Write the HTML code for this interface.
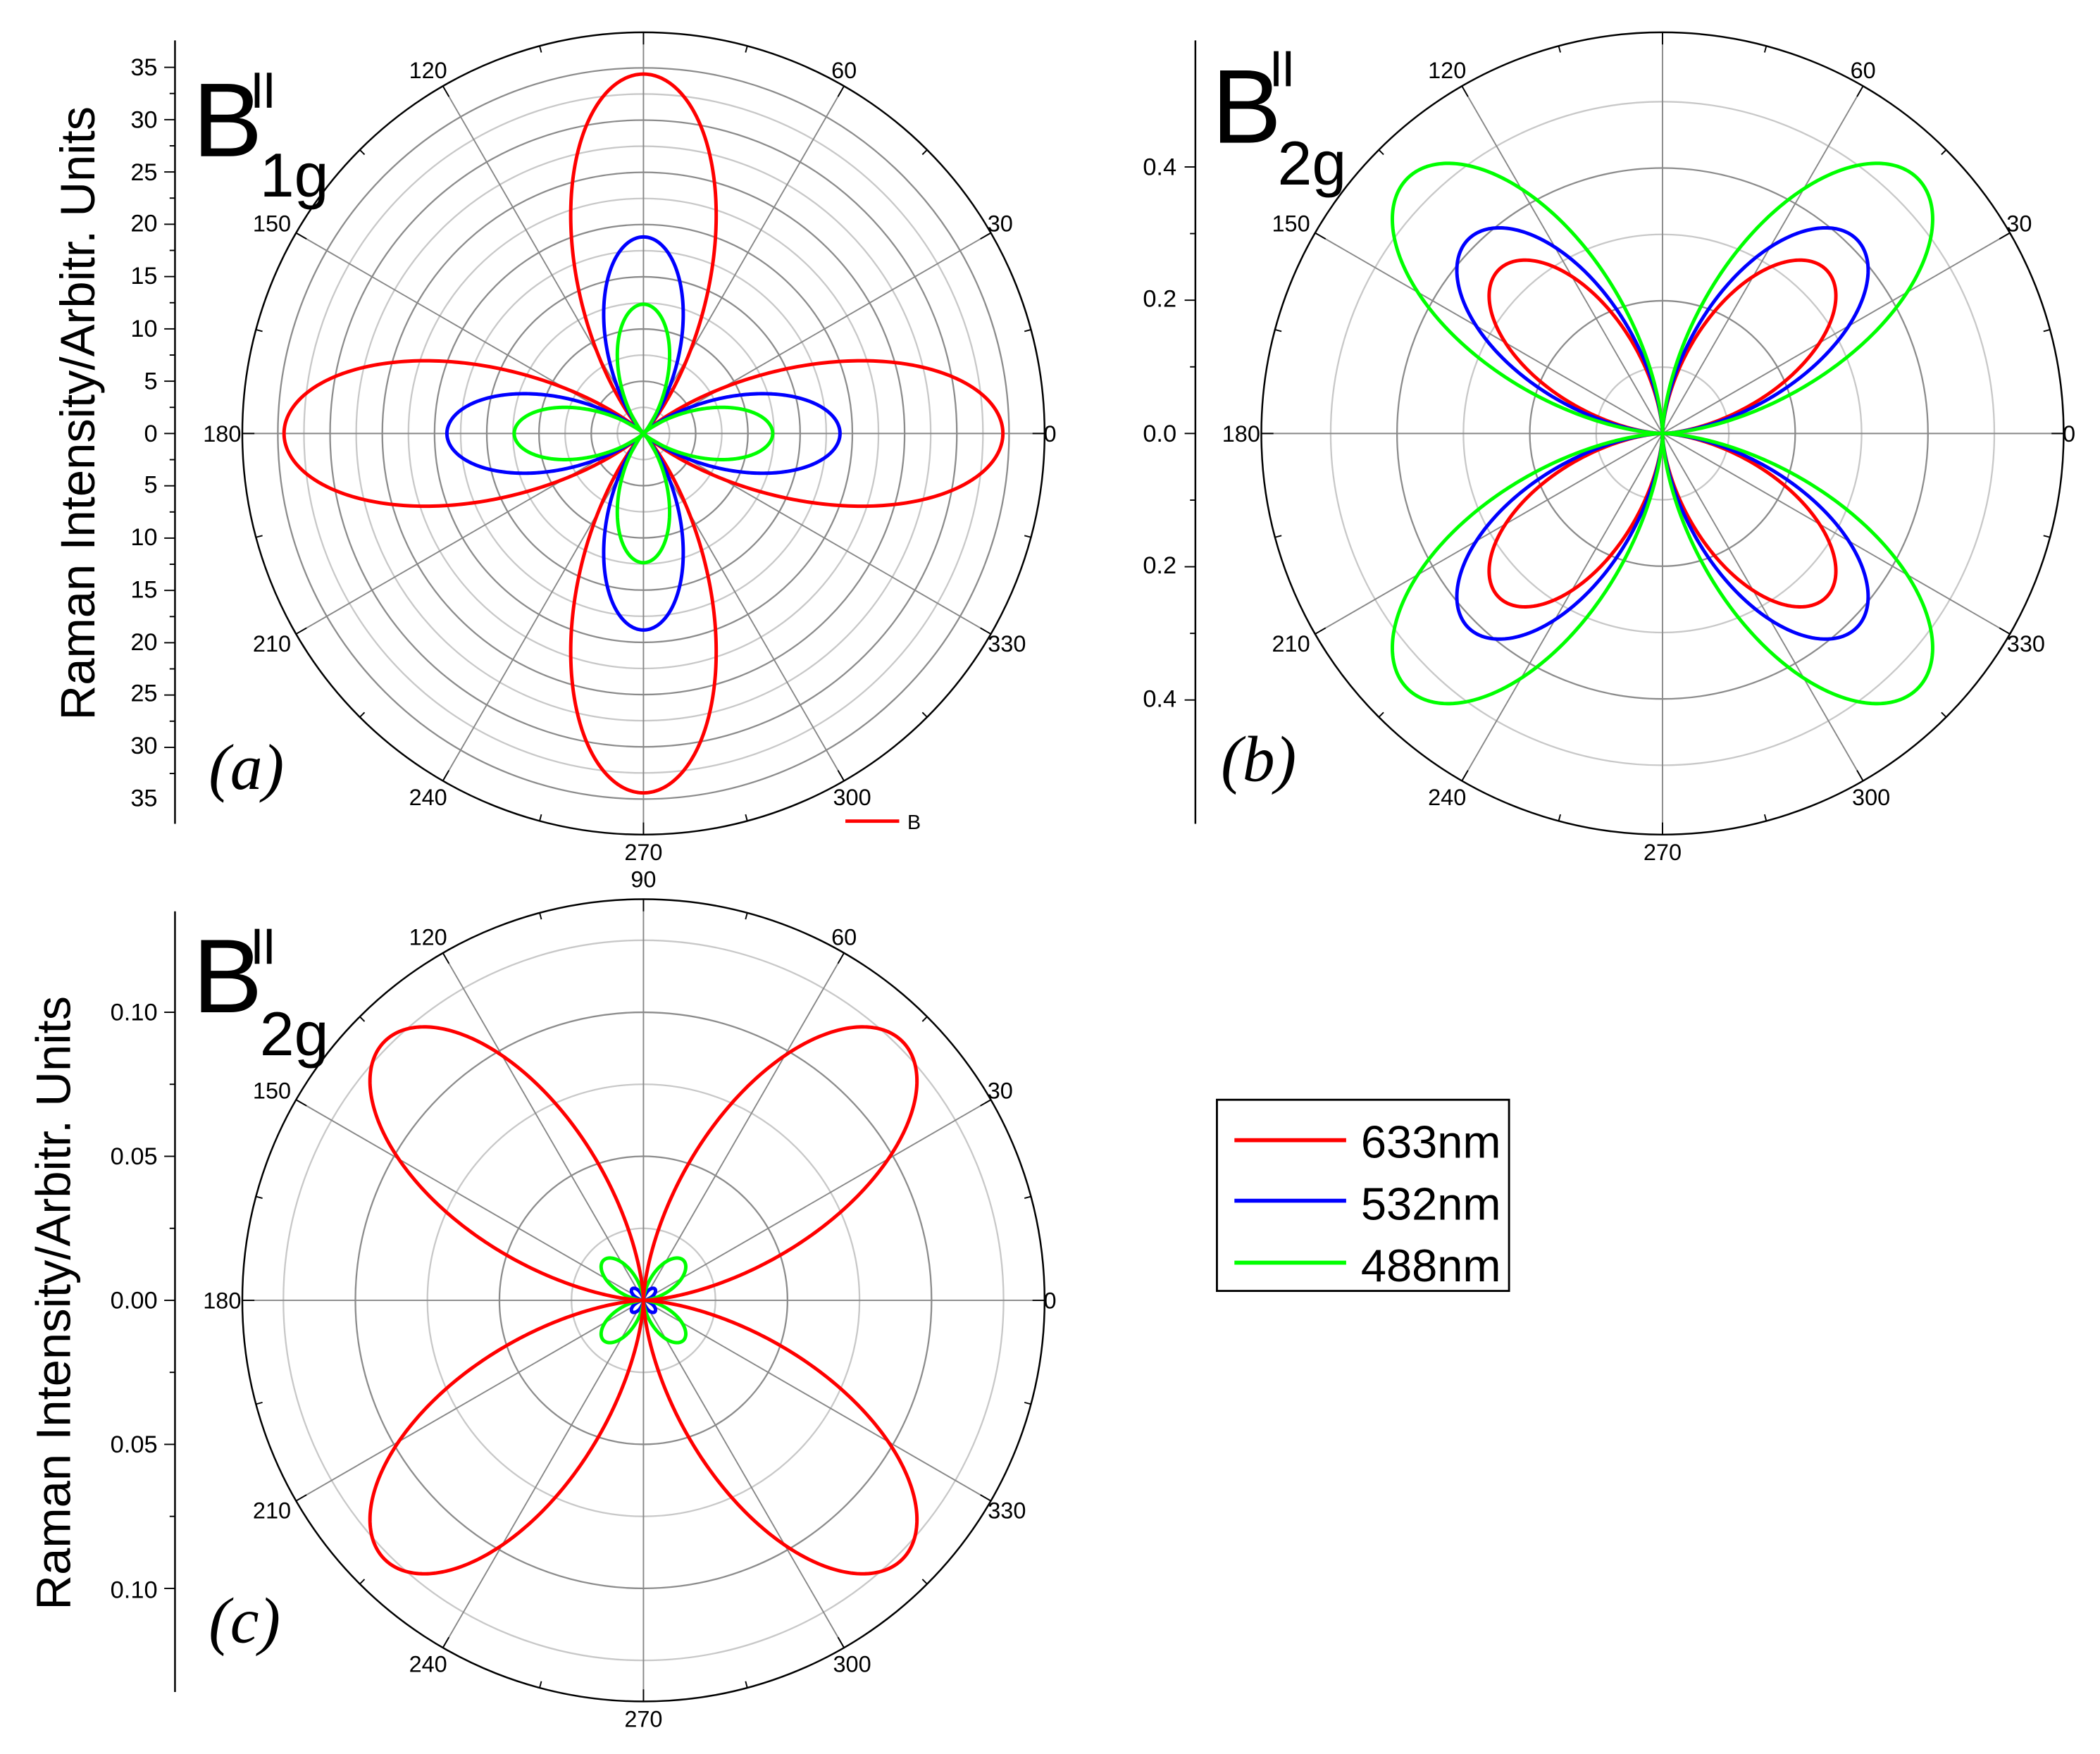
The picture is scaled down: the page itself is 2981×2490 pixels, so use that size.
<!DOCTYPE html>
<html><head><meta charset="utf-8"><style>
html,body{margin:0;padding:0;background:#fff;}
svg{display:block;}
text{font-family:"Liberation Sans Narrow","Liberation Sans",sans-serif;}
</style></head><body>
<svg id="s" xmlns="http://www.w3.org/2000/svg" width="2981" height="2490" viewBox="0 0 1560 1303">
<rect width="1560" height="1303" fill="#fff"/>
<g id="grid"></g>
<g id="curves" fill="none" stroke-width="2.6" stroke-linejoin="round"></g>
<g font-size="17" fill="#000" text-anchor="middle">
<text x="318" y="58">120</text><text x="627" y="58">60</text>
<text x="202" y="172">150</text><text x="743" y="172">30</text>
<text x="165" y="328">180</text><text x="780" y="328">0</text>
<text x="202" y="484">210</text><text x="748" y="484">330</text>
<text x="318" y="598">240</text><text x="633" y="598">300</text>
<text x="478" y="639">270</text><text x="478" y="659">90</text>
<text x="1075" y="58">120</text><text x="1384" y="58">60</text>
<text x="959" y="172">150</text><text x="1500" y="172">30</text>
<text x="922" y="328">180</text><text x="1537" y="328">0</text>
<text x="959" y="484">210</text><text x="1505" y="484">330</text>
<text x="1075" y="598">240</text><text x="1390" y="598">300</text>
<text x="1235" y="639">270</text>
<text x="318" y="702">120</text><text x="627" y="702">60</text>
<text x="202" y="816">150</text><text x="743" y="816">30</text>
<text x="165" y="972">180</text><text x="780" y="972">0</text>
<text x="202" y="1128">210</text><text x="748" y="1128">330</text>
<text x="318" y="1242">240</text><text x="633" y="1242">300</text>
<text x="478" y="1283">270</text>
</g>
<g font-size="18" fill="#000" text-anchor="end">
<text x="117" y="56">35</text><text x="117" y="95">30</text><text x="117" y="134">25</text><text x="117" y="172">20</text><text x="117" y="211">15</text><text x="117" y="250">10</text><text x="117" y="289">5</text><text x="117" y="328">0</text><text x="117" y="366">5</text><text x="117" y="405">10</text><text x="117" y="444">15</text><text x="117" y="483">20</text><text x="117" y="521">25</text><text x="117" y="560">30</text><text x="117" y="599">35</text>
<text x="874" y="130">0.4</text><text x="874" y="228">0.2</text><text x="874" y="328">0.0</text><text x="874" y="426">0.2</text><text x="874" y="525">0.4</text>
<text x="117" y="758">0.10</text><text x="117" y="865">0.05</text><text x="117" y="972">0.00</text><text x="117" y="1079">0.05</text><text x="117" y="1187">0.10</text>
</g>
<g font-size="36" fill="#000" text-anchor="middle">
<text transform="translate(70,307) rotate(-90)" style="font-family:'Liberation Sans',sans-serif">Raman Intensity/Arbitr. Units</text>
<text transform="translate(52,968) rotate(-90)" style="font-family:'Liberation Sans',sans-serif">Raman Intensity/Arbitr. Units</text>
</g>
<g fill="#000">
<text x="143" y="116" font-size="78" style="font-family:'Liberation Sans',sans-serif">B</text>
<text x="193" y="146" font-size="46" style="font-family:'Liberation Sans',sans-serif">1g</text>
<text x="900" y="106" font-size="78" style="font-family:'Liberation Sans',sans-serif">B</text>
<text x="949" y="137" font-size="46" style="font-family:'Liberation Sans',sans-serif">2g</text>
<text x="143" y="752" font-size="78" style="font-family:'Liberation Sans',sans-serif">B</text>
<text x="193" y="784" font-size="46" style="font-family:'Liberation Sans',sans-serif">2g</text>
</g>
<g stroke="#000" stroke-width="3.5">
<line x1="191" y1="54" x2="191" y2="80"/><line x1="200" y1="54" x2="200" y2="80"/>
<line x1="948" y1="38" x2="948" y2="64"/><line x1="957" y1="38" x2="957" y2="64"/>
<line x1="191" y1="690" x2="191" y2="716"/><line x1="200" y1="690" x2="200" y2="716"/>
</g>
<g font-style="italic" font-size="48" fill="#000">
<text x="155" y="586" style="font-family:'Liberation Serif',serif">(a)</text>
<text x="907" y="580" style="font-family:'Liberation Serif',serif">(b)</text>
<text x="155" y="1220" style="font-family:'Liberation Serif',serif">(c)</text>
</g>
<line x1="628" y1="610" x2="668" y2="610" stroke="#f00" stroke-width="2.5"/>
<text x="674" y="616" font-size="15">B</text>
<rect x="904" y="817" width="217" height="142" fill="none" stroke="#000" stroke-width="1.5"/>
<line x1="917" y1="847" x2="1000" y2="847" stroke="#f00" stroke-width="3"/>
<line x1="917" y1="892" x2="1000" y2="892" stroke="#00f" stroke-width="3"/>
<line x1="917" y1="938" x2="1000" y2="938" stroke="#0f0" stroke-width="3"/>
<g font-size="34" fill="#000">
<text x="1011" y="860" style="font-family:'Liberation Sans',sans-serif">633nm</text>
<text x="1011" y="906" style="font-family:'Liberation Sans',sans-serif">532nm</text>
<text x="1011" y="952" style="font-family:'Liberation Sans',sans-serif">488nm</text>
</g>
</svg>
<script>
(function(){
var NS="http://www.w3.org/2000/svg";
var grid=document.getElementById("grid"),cur=document.getElementById("curves");
function el(p,t,a){var e=document.createElementNS(NS,t);for(var k in a)e.setAttribute(k,a[k]);p.appendChild(e);return e;}
function panel(cx,cy,R,step,n,ax,ay0,ay1,ticks){
  for(var i=1;i<=n;i++){el(grid,"circle",{cx:cx,cy:cy,r:step*i,fill:"none",stroke:(i%2?"#c8c8c8":"#8c8c8c"),"stroke-width":1.2});}
  for(var a=0;a<360;a+=30){var t=a*Math.PI/180;el(grid,"line",{x1:cx,y1:cy,x2:cx+R*Math.cos(t),y2:cy-R*Math.sin(t),stroke:"#888","stroke-width":1});}
  el(grid,"circle",{cx:cx,cy:cy,r:R,fill:"none",stroke:"#000","stroke-width":1.3});
  for(var a=0;a<360;a+=15){var t=a*Math.PI/180;var l=a%30?5:9;el(grid,"line",{x1:cx+R*Math.cos(t),y1:cy-R*Math.sin(t),x2:cx+(R-l)*Math.cos(t),y2:cy-(R-l)*Math.sin(t),stroke:"#000","stroke-width":1});}
  el(grid,"line",{x1:ax,y1:ay0,x2:ax,y2:ay1,stroke:"#000","stroke-width":1.3});
  ticks.forEach(function(y,i){el(grid,"line",{x1:ax,y1:y,x2:ax-(i%2?4:8),y2:y,stroke:"#000","stroke-width":1});});
}
function rng(a,b,s){var r=[];for(var y=a;y<=b+0.01;y+=s)r.push(y);return r;}
panel(478,322,298,19.4,14,130,30,612,rng(50,594,19.43));
panel(1235,322,298,49.3,5,888,30,612,rng(124,520,49.5));
panel(478,966,298,53.5,5,130,677,1257,rng(752,1180,53.5));
function curve(cx,cy,f,col){var d="";for(var i=0;i<=1440;i++){var t=i/1440*2*Math.PI;var r=f(t);d+=(i?"L":"M")+(cx+r*Math.cos(t)).toFixed(2)+" "+(cy-r*Math.sin(t)).toFixed(2);}el(cur,"path",{d:d,stroke:col});}
function ca(A){return function(t){var c=Math.cos(2*t);return A*c*c;};}
function sb(A,p){return function(t){return A*Math.pow(Math.abs(Math.sin(2*t)),p);};}
curve(478,322,ca(267),"#f00");curve(478,322,ca(146),"#00f");curve(478,322,ca(96),"#0f0");
curve(1235,322,sb(172,1.7),"#f00");curve(1235,322,sb(204,1.7),"#00f");curve(1235,322,sb(268,1.7),"#0f0");
curve(478,966,sb(12,1.7),"#00f");curve(478,966,sb(42,1.7),"#0f0");curve(478,966,sb(272,1.8),"#f00");
})();
</script>
</body></html>
